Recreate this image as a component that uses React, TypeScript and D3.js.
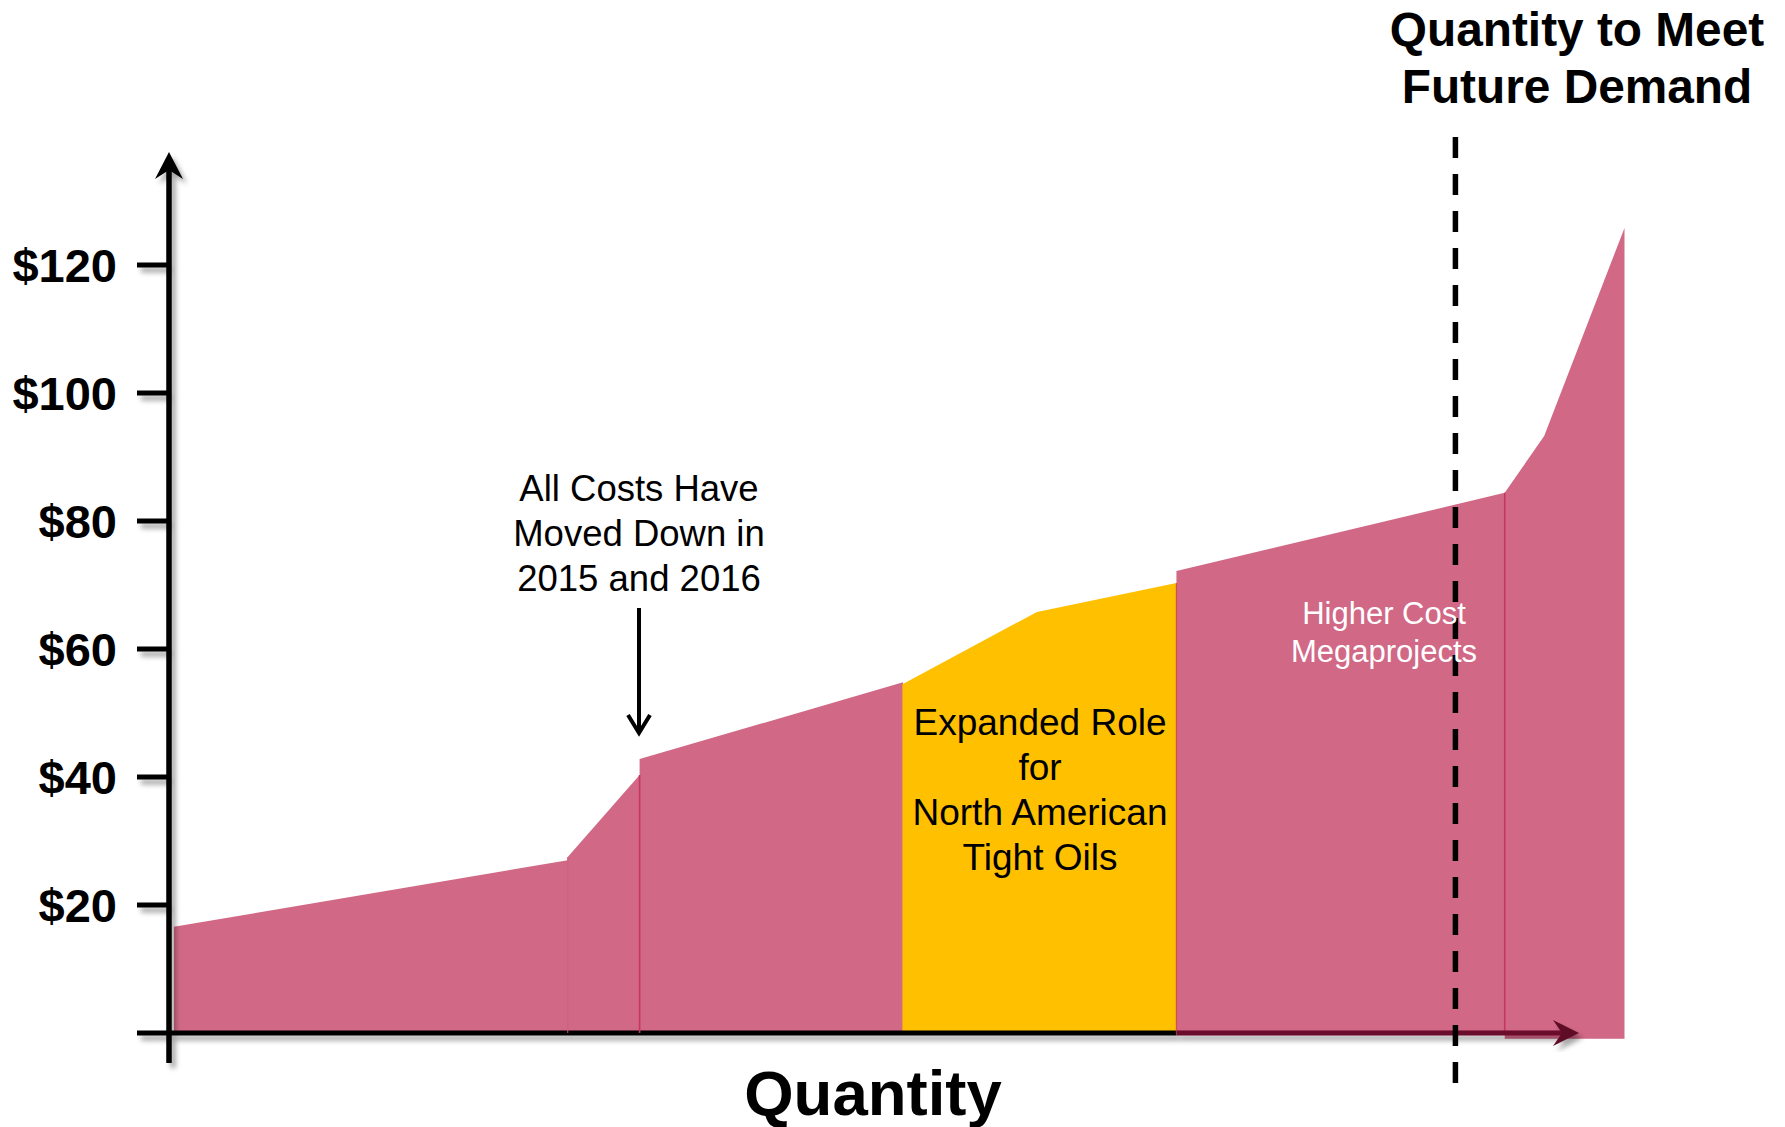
import React from "react";
import * as d3 from "d3";

// ---- data (quantity in arbitrary units, price in $/bbl) ----
const tickValues = [20, 40, 60, 80, 100, 120];
const tickLabels = ["$20", "$40", "$60", "$80", "$100", "$120"];

const conventional: [number, number][] = [[0.35, 16.6], [28.3, 27.0]];
const transition: [number, number][] = [[28.3, 27.5], [33.4, 40.3]];
const midCost: [number, number][] = [[33.4, 42.8], [52.1, 54.8]];
const tightOils: [number, number][] = [[52.05, 54.5], [61.6, 65.8], [71.5, 70.3]];
const megaprojects: [number, number][] = [[71.5, 72.2], [94.8, 84.4]];
const highestCost: [number, number][] = [[94.8, 84.4], [97.6, 93.3], [103.3, 125.8]];

const demandQuantity = 91.3;
const dividerQuantities = [33.4, 94.8];

const annotationLines = ["All Costs Have", "Moved Down in", "2015 and 2016"];
const tightLines = ["Expanded Role", "for", "North American", "Tight Oils"];
const megaLines = ["Higher Cost", "Megaprojects"];
const titleLines = ["Quantity to Meet", "Future Demand"];

const PINK = "#D16886";
const YELLOW = "#FFC000";
const FONT = "'Liberation Sans', Arial, Helvetica, sans-serif";

export default function App() {
  const W = 1785, H = 1127;
  const x = d3.scaleLinear().domain([0, 100]).range([169, 1578]);
  const y = d3.scaleLinear().domain([0, 120]).range([1033, 265]);

  const area = (base: number) =>
    d3.area<[number, number]>()
      .x(d => x(d[0]))
      .y0(y(base))
      .y1(d => y(d[1]))
      .curve(d3.curveLinear);

  const pinkSegs = [conventional, transition, midCost];
  const axisY = y(0);

  return (
    <svg width={W} height={H} style={{ position: "absolute", left: 0, top: 0, background: "#fff" }}>
      <defs>
        <filter id="sh" x="-20%" y="-20%" width="140%" height="140%">
          <feDropShadow dx="4" dy="5" stdDeviation="2.5" floodColor="#000" floodOpacity="0.35" />
        </filter>
      </defs>

      {/* pink lower segments */}
      {pinkSegs.map((s, i) => (
        <path key={i} d={area(0)(s) || ""} fill={PINK} />
      ))}
      <path d={area(0)(tightOils) || ""} fill={YELLOW} />

      {/* y axis with ticks */}
      <g filter="url(#sh)">
        <line x1={x(0)} x2={x(0)} y1={1063} y2={166} stroke="#000" strokeWidth={5.5} />
        <path d={`M${x(0)},152 L${x(0) + 14},179 L${x(0)},170 L${x(0) - 14},179 Z`} fill="#000" />
        {tickValues.map(v => (
          <line key={v} x1={137} x2={x(0)} y1={y(v)} y2={y(v)} stroke="#000" strokeWidth={5} />
        ))}
        <line x1={137} x2={x(71.5)} y1={axisY} y2={axisY} stroke="#000" strokeWidth={5} />
      </g>

      {/* upper pink segments */}
      <path d={area(0)(megaprojects) || ""} fill={PINK} />
      <path d={area(-0.9)(highestCost) || ""} fill={PINK} />

      {/* segment dividers */}
      <line x1={x(28.3)} x2={x(28.3)} y1={y(27.5)} y2={axisY} stroke="#c85a7a" strokeWidth={1} />
      {dividerQuantities.map((q, i) => (
        <line key={i} x1={x(q)} x2={x(q)} y1={y(i === 0 ? 40.3 : 84.4)} y2={axisY} stroke="#c7365f" strokeWidth={1.6} />
      ))}
      <line x1={x(71.5)} x2={x(71.5)} y1={y(70.3)} y2={axisY} stroke="#d2504a" strokeWidth={1.2} />

      {/* x axis under overlay */}
      <g filter="url(#sh)">
        <line x1={x(71.5)} x2={1562} y1={axisY} y2={axisY} stroke="#6b0d2b" strokeWidth={5} />
        <path d={`M1579,${axisY} L1553,${axisY - 13} L1562,${axisY} L1553,${axisY + 13} Z`} fill="#5e0a25" />
      </g>

      {/* y tick labels */}
      {tickValues.map((v, i) => (
        <text key={v} x={117} y={y(v) + 16.5} textAnchor="end" fontFamily={FONT} fontWeight="bold" fontSize={47} fill="#000">
          {tickLabels[i]}
        </text>
      ))}

      {/* demand line */}
      <line x1={x(demandQuantity)} x2={x(demandQuantity)} y1={137} y2={1091} stroke="#000" strokeWidth={5.5} strokeDasharray="21 16" />

      {/* annotation */}
      {annotationLines.map((t, i) => (
        <text key={t} x={639} y={501 + i * 45} textAnchor="middle" fontFamily={FONT} fontSize={36.5} fill="#000">{t}</text>
      ))}
      <line x1={639} x2={639} y1={608} y2={732} stroke="#000" strokeWidth={4} />
      <path d="M628,715 L639,733 L650,715" fill="none" stroke="#000" strokeWidth={4} />

      {tightLines.map((t, i) => (
        <text key={t} x={1040} y={735 + i * 45} textAnchor="middle" fontFamily={FONT} fontSize={37} fill="#000">{t}</text>
      ))}
      {megaLines.map((t, i) => (
        <text key={t} x={1384} y={624 + i * 38} textAnchor="middle" fontFamily={FONT} fontSize={31} fill="#fff">{t}</text>
      ))}

      {titleLines.map((t, i) => (
        <text key={t} x={1577} y={46 + i * 57} textAnchor="middle" fontFamily={FONT} fontWeight="bold" fontSize={47.8} fill="#000">{t}</text>
      ))}

      <text x={873} y={1115} textAnchor="middle" fontFamily={FONT} fontWeight="bold" fontSize={63.5} fill="#000">Quantity</text>
    </svg>
  );
}
